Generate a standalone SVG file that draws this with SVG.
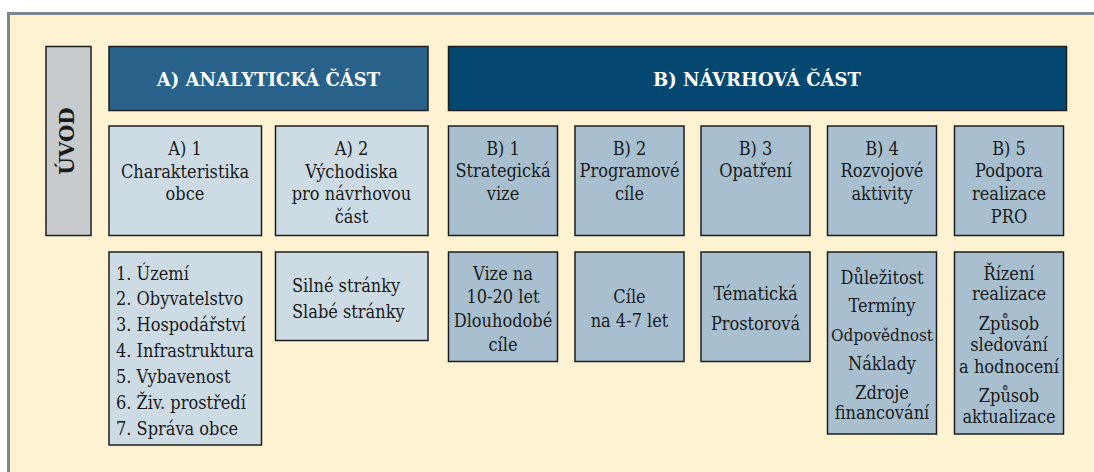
<svg xmlns="http://www.w3.org/2000/svg" width="1094" height="472" viewBox="0 0 1094 472">
<style>
.box{stroke:#1e1e1e;stroke-width:1.5}
.light{fill:#cddbe5}
.mid{fill:#a7bfcf}
text{font-family:"DejaVu Serif","Liberation Serif",serif}
.t{font-family:"DejaVu Serif Condensed","DejaVu Serif",serif;font-stretch:condensed;font-size:18px;fill:#1a1a1a;text-anchor:middle}
.l{text-anchor:start}
.h{font-size:18px;font-weight:bold;fill:#ffffff;text-anchor:middle}
</style>
<rect x="0" y="0" width="1094" height="472" fill="#ffffff"/>
<rect x="10" y="15" width="1084" height="457" fill="#fdf3d3"/>
<line x1="7" y1="13.5" x2="1094" y2="13.5" stroke="#7b868e" stroke-width="3"/>
<line x1="8.5" y1="12" x2="8.5" y2="472" stroke="#7b868e" stroke-width="3"/>
<g id="uvod">
<rect class="box" x="46" y="46.5" width="45" height="189" fill="#c8cbcd"/>
<text class="h" style="fill:#1a1a1a;font-size:20px" transform="translate(74,141) rotate(-90)">ÚVOD</text>
</g>
<g id="a-header">
<rect class="box" x="109" y="46.5" width="319" height="64" fill="#28628a"/>
<text class="h" x="268.5" y="86">A) ANALYTICKÁ ČÁST</text>
</g>
<g id="b-header">
<rect class="box" x="448.5" y="46.5" width="618" height="64" fill="#044872"/>
<text class="h" x="757" y="86">B) NÁVRHOVÁ ČÁST</text>
</g>
<g id="a1">
<rect class="box light" x="109" y="126" width="152.5" height="109.5"/>
<text class="t" x="185" y="155">A) 1</text>
<text class="t" x="185" y="178">Charakteristika</text>
<text class="t" x="185" y="200">obce</text>
</g>
<g id="a2">
<rect class="box light" x="275.5" y="126" width="152.5" height="109.5"/>
<text class="t" x="351.5" y="155">A) 2</text>
<text class="t" x="351.5" y="177.5">Východiska</text>
<text class="t" x="351.5" y="200">pro návrhovou</text>
<text class="t" x="351.5" y="222.5">část</text>
</g>
<g id="b1">
<rect class="box mid" x="448.5" y="126" width="109" height="109.5"/>
<text class="t" x="503" y="155">B) 1</text>
<text class="t" x="503" y="177">Strategická</text>
<text class="t" x="503" y="199.5">vize</text>
</g>
<g id="b2">
<rect class="box mid" x="575" y="126" width="109" height="109.5"/>
<text class="t" x="629.5" y="155">B) 2</text>
<text class="t" x="629.5" y="177">Programové</text>
<text class="t" x="629.5" y="199.5">cíle</text>
</g>
<g id="b3">
<rect class="box mid" x="701" y="126" width="109" height="109.5"/>
<text class="t" x="755.5" y="155">B) 3</text>
<text class="t" x="755.5" y="177">Opatření</text>
</g>
<g id="b4">
<rect class="box mid" x="827.5" y="126" width="109" height="109.5"/>
<text class="t" x="882" y="155">B) 4</text>
<text class="t" x="882" y="177">Rozvojové</text>
<text class="t" x="882" y="199.5">aktivity</text>
</g>
<g id="b5">
<rect class="box mid" x="954.5" y="126" width="109" height="109.5"/>
<text class="t" x="1009" y="155">B) 5</text>
<text class="t" x="1009" y="177">Podpora</text>
<text class="t" x="1009" y="199.5">realizace</text>
<text class="t" x="1009" y="222.5">PRO</text>
</g>
<g id="a1-list">
<rect class="box light" x="109" y="252" width="152.5" height="193"/>
<text class="t l" x="116" y="279.5">1. Území</text>
<text class="t l" x="116" y="305.3">2. Obyvatelstvo</text>
<text class="t l" x="116" y="331">3. Hospodářství</text>
<text class="t l" x="116" y="357">4. Infrastruktura</text>
<text class="t l" x="116" y="383">5. Vybavenost</text>
<text class="t l" x="116" y="408.8">6. Živ. prostředí</text>
<text class="t l" x="116" y="434.5">7. Správa obce</text>
</g>
<g id="a2-list">
<rect class="box light" x="275.5" y="252" width="152.5" height="88.5"/>
<text class="t l" x="292" y="291.5">Silné stránky</text>
<text class="t l" x="292" y="317.5">Slabé stránky</text>
</g>
<g id="b1-list">
<rect class="box mid" x="448.5" y="252" width="109" height="109.5"/>
<text class="t" x="503" y="279.5">Vize na</text>
<text class="t" x="503" y="303.3">10-20 let</text>
<text class="t" x="503" y="327">Dlouhodobé</text>
<text class="t" x="503" y="350.5">cíle</text>
</g>
<g id="b2-list">
<rect class="box mid" x="575" y="252" width="109" height="109.5"/>
<text class="t" x="629.5" y="303.3">Cíle</text>
<text class="t" x="629.5" y="327">na 4-7 let</text>
</g>
<g id="b3-list">
<rect class="box mid" x="701" y="252" width="109" height="109.5"/>
<text class="t" x="755.5" y="299.5">Tématická</text>
<text class="t" x="755.5" y="330">Prostorová</text>
</g>
<g id="b4-list">
<rect class="box mid" x="827.5" y="252" width="109" height="182"/>
<text class="t" x="882" y="283.5">Důležitost</text>
<text class="t" x="882" y="312">Termíny</text>
<text class="t" x="882" y="341" style="font-size:17px">Odpovědnost</text>
<text class="t" x="882" y="369.5">Náklady</text>
<text class="t" x="882" y="399">Zdroje</text>
<text class="t" x="882" y="419">financování</text>
</g>
<g id="b5-list">
<rect class="box mid" x="954.5" y="252" width="109" height="182"/>
<text class="t" x="1009" y="279.5">Řízení</text>
<text class="t" x="1009" y="299.5">realizace</text>
<text class="t" x="1009" y="329.5">Způsob</text>
<text class="t" x="1009" y="350.5">sledování</text>
<text class="t" x="1009" y="372.5">a hodnocení</text>
<text class="t" x="1009" y="401.5">Způsob</text>
<text class="t" x="1009" y="423">aktualizace</text>
</g>
<g id="connectors"></g>
</svg>
